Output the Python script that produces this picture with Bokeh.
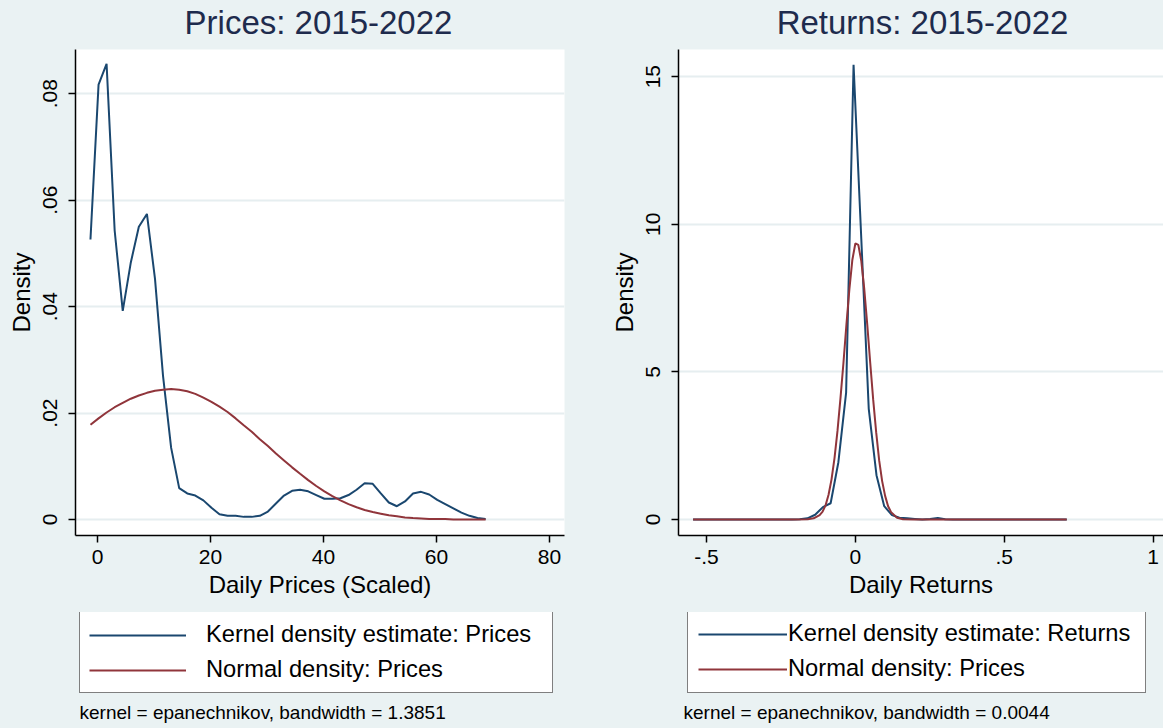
from bokeh.plotting import figure
from bokeh.layouts import row, column
from bokeh.models import Legend, LegendItem, Label, FixedTicker, Range1d
from bokeh.embed import file_html
from bokeh.resources import INLINE

# ---------------- data ----------------
price_x = [-1.24, 0.19, 1.61, 3.04, 4.47, 5.90, 7.32, 8.75, 10.18, 11.60,
           13.03, 14.46, 15.89, 17.31, 18.74, 20.17, 21.59, 23.02, 24.45, 25.88,
           27.30, 28.73, 30.16, 31.58, 33.01, 34.44, 35.86, 37.29, 38.72, 40.15,
           41.57, 43.00, 44.43, 45.85, 47.28, 48.71, 50.14, 51.56, 52.99, 54.42,
           55.84, 57.27, 58.70, 60.13, 61.55, 62.98, 64.41, 65.83, 67.26, 68.69]
price_kde = [0.0526, 0.0817, 0.0856, 0.0543, 0.0392, 0.0483, 0.0550, 0.0574, 0.0452, 0.0270,
             0.0135, 0.0059, 0.0049, 0.0045, 0.0036, 0.0022, 0.0010, 0.0007, 0.0007, 0.0005,
             0.0005, 0.0007, 0.0015, 0.0030, 0.0045, 0.0054, 0.0056, 0.0053, 0.0046, 0.0039,
             0.0039, 0.0040, 0.0046, 0.0056, 0.0068, 0.0067, 0.0049, 0.0032, 0.0025, 0.0034,
             0.0049, 0.0052, 0.0047, 0.0037, 0.0029, 0.0021, 0.0013, 0.0007, 0.0003, 0.0001]
price_norm = [0.0178, 0.0190, 0.0201, 0.0211, 0.0219, 0.0227, 0.0233, 0.0238, 0.0242, 0.0244,
              0.0245, 0.0244, 0.0241, 0.0236, 0.0229, 0.0221, 0.0212, 0.0202, 0.0190, 0.0177,
              0.0165, 0.0151, 0.0138, 0.0124, 0.0111, 0.0098, 0.0086, 0.0074, 0.0063, 0.0053,
              0.0044, 0.0036, 0.0029, 0.0023, 0.0018, 0.0014, 0.0011, 0.0008, 0.0006, 0.0004,
              0.0003, 0.0002, 0.0001, 0.0001, 0.0001, 0.0000, 0.0000, 0.0000, 0.0000, 0.0000]

ret_x = [-0.545, -0.45, -0.35, -0.25, -0.213, -0.187, -0.161, -0.135, -0.109, -0.083,
         -0.057, -0.031, -0.006, 0.020, 0.045, 0.071, 0.097, 0.123, 0.148, 0.174,
         0.200, 0.225, 0.251, 0.277, 0.302, 0.328, 0.40, 0.50, 0.60, 0.71]
ret_kde = [0.0, 0.0, 0.0, 0.0, 0.0, 0.01, 0.04, 0.16, 0.42, 0.55,
           1.94, 4.30, 15.4, 9.5, 3.75, 1.50, 0.45, 0.15, 0.06, 0.04,
           0.02, 0.0, 0.02, 0.05, 0.01, 0.0, 0.0, 0.0, 0.0, 0.0]

norm_x = [-0.545, -0.30, -0.20, -0.16, -0.14, -0.12, -0.11, -0.10, -0.09, -0.08,
          -0.07, -0.06, -0.05, -0.04, -0.03, -0.02, -0.01, 0.0, 0.01, 0.02,
          0.03, 0.04, 0.05, 0.06, 0.07, 0.08, 0.09, 0.10, 0.11, 0.12,
          0.14, 0.16, 0.20, 0.30, 0.71]
ret_norm = [0.0, 0.0, 0.0, 0.01, 0.04, 0.15, 0.27, 0.48, 0.84, 1.36,
            2.08, 3.0, 4.1, 5.3, 6.6, 7.8, 8.8, 9.35, 9.3, 8.75,
            7.8, 6.6, 5.3, 4.05, 2.95, 2.0, 1.3, 0.8, 0.45, 0.25,
            0.06, 0.01, 0.0, 0.0, 0.0]

price_yticks = [0, 0.02, 0.04, 0.06, 0.08]
price_ylabels = ["0", ".02", ".04", ".06", ".08"]
price_xticks = [0, 20, 40, 60, 80]
ret_yticks = [0, 5, 10, 15]
ret_xticks = [-0.5, 0, 0.5, 1]
ret_xlabels = ["-.5", "0", ".5", "1"]

titles = ["Prices: 2015-2022", "Returns: 2015-2022"]
xlabels = ["Daily Prices (Scaled)", "Daily Returns"]
legend_labels = [["Kernel density estimate: Prices", "Normal density: Prices"],
                 ["Kernel density estimate: Returns", "Normal density: Prices"]]
notes = ["kernel = epanechnikov, bandwidth = 1.3851",
         "kernel = epanechnikov, bandwidth = 0.0044"]

# ---------------- style ----------------
BG = "#EAF2F3"
NAVY = "#1A476F"
MAROON = "#90353B"
FONT = "Liberation Sans"
FRAME_H = 486
TOP_H = 49
MAIN_BOTTOM = 77
BOT_H = 728 - TOP_H - FRAME_H - MAIN_BOTTOM
LEG_H = 78


def strip(frame_w, border_l, border_r, height):
    # x coordinates of the strip = pixel offset from the panel's left edge
    f = figure(frame_width=frame_w, frame_height=height,
               min_border_left=border_l, min_border_right=border_r,
               min_border_top=0, min_border_bottom=0,
               x_range=Range1d(border_l, border_l + frame_w), y_range=Range1d(0, height),
               x_axis_type=None, y_axis_type=None,
               output_backend="svg", toolbar_location=None,
               background_fill_color=BG, border_fill_color=BG,
               outline_line_color=None)
    f.grid.visible = False
    return f


def make_panel(xs1, ys1, xs2, ys2, xr, yr, frame_w, border_l, border_r,
               title, title_x, xlabel, labels, note, glyph_w, standoff, pad,
               label_w, leg_x, note_x):
    # ---- title strip ----
    top = strip(frame_w, border_l, border_r, TOP_H)
    top.add_layout(Label(x=title_x, y=TOP_H - 22, text=title,
                         text_align="center", text_baseline="middle",
                         text_font=FONT, text_font_size="33px",
                         text_color="#1E2B4D"))

    # ---- main plot ----
    p = figure(frame_width=frame_w, frame_height=FRAME_H,
               min_border_left=border_l, min_border_right=border_r,
               min_border_top=0, min_border_bottom=MAIN_BOTTOM,
               x_range=Range1d(*xr), y_range=Range1d(*yr),
               output_backend="svg", toolbar_location=None,
               background_fill_color="white", border_fill_color=BG,
               outline_line_color=None)
    p.line(xs1, ys1, line_color=NAVY, line_width=2)
    p.line(xs2, ys2, line_color=MAROON, line_width=2)

    for ax in (p.xaxis[0], p.yaxis[0]):
        ax.axis_line_color = "black"
        ax.axis_line_width = 1.5
        ax.major_tick_line_color = "black"
        ax.major_tick_line_width = 1.5
        ax.major_tick_out = 7
        ax.major_tick_in = 0
        ax.minor_tick_line_color = None
        ax.major_label_text_font = FONT
        ax.major_label_text_font_size = "21px"
        ax.major_label_text_color = "black"
        ax.axis_label_text_font = FONT
        ax.axis_label_text_font_size = "24px"
        ax.axis_label_text_font_style = "normal"
        ax.axis_label_text_color = "black"
    p.xaxis.axis_label = xlabel
    p.yaxis.axis_label = "Density"
    p.yaxis.major_label_orientation = "vertical"
    p.xaxis.major_label_standoff = 7
    p.xaxis.axis_label_standoff = 4
    p.yaxis.major_label_standoff = 11
    p.yaxis.axis_label_standoff = 6

    p.xgrid.visible = False
    p.ygrid.grid_line_color = "#E6EEF0"
    p.ygrid.grid_line_width = 2

    # ---- legend + note strip ----
    bot = strip(frame_w, border_l, border_r, BOT_H)
    s1 = bot.line(xs1, ys1, line_color=NAVY, line_width=2, visible=False)
    s2 = bot.line(xs2, ys2, line_color=MAROON, line_width=2, visible=False)
    legend = Legend(items=[LegendItem(label=labels[0], renderers=[s1]),
                           LegendItem(label=labels[1], renderers=[s2])],
                    location=(leg_x, BOT_H - 3 - LEG_H), orientation="vertical",
                    border_line_color="black", border_line_width=1,
                    background_fill_color="white", background_fill_alpha=1,
                    inactive_fill_alpha=0,
                    label_text_font=FONT, label_text_font_size="23.7px",
                    label_text_color="black", label_width=label_w,
                    glyph_width=glyph_w, glyph_height=26, label_height=26,
                    label_standoff=standoff, padding=pad, spacing=8, margin=0)
    bot.add_layout(legend, "center")
    bot.add_layout(Label(x=note_x, y=728 - 712, text=note,
                         text_align="left", text_baseline="middle",
                         text_font=FONT, text_font_size="19px",
                         text_color="black"))
    return column(top, p, bot, spacing=0), p


col1, p1 = make_panel(price_x, price_kde, price_x, price_norm, (-3.89, 82.65), (-0.0030, 0.0883),
                      489, 75, 18, titles[0], 318, xlabels[0], legend_labels[0], notes[0],
                      97, 20, 9, 337, 79 - 75, 79)
p1.yaxis.ticker = FixedTicker(ticks=price_yticks)
p1.yaxis.major_label_overrides = {t: l for t, l in zip(price_yticks, price_ylabels)}
p1.xaxis.ticker = FixedTicker(ticks=price_xticks)

col2, p2 = make_panel(ret_x, ret_kde, norm_x, ret_norm, (-0.594, 1.035), (-0.542, 15.92),
                      485, 96, 0, titles[1], 922 - 582, xlabels[1], legend_labels[1], notes[1],
                      89, 1, 10, 347, 687 - 678, 683 - 582)
p2.yaxis.ticker = FixedTicker(ticks=ret_yticks)
p2.xaxis.ticker = FixedTicker(ticks=ret_xticks)
p2.xaxis.major_label_overrides = {t: l for t, l in zip(ret_xticks, ret_xlabels)}

layout = row(col1, col2, spacing=0, styles={"background-color": BG})

open("out.html", "w").write(file_html(layout, INLINE))
